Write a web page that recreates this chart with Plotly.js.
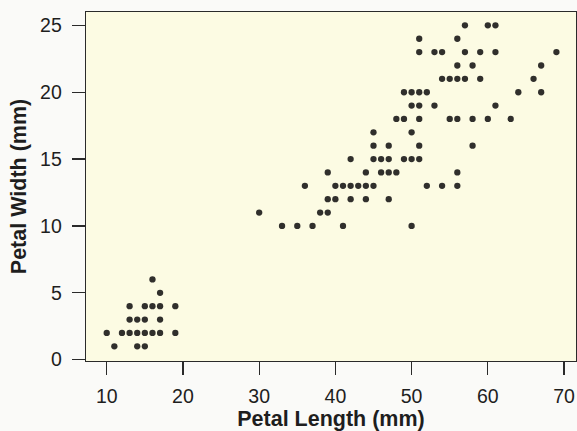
<!DOCTYPE html>
<html>
<head>
<meta charset="utf-8">
<script src="https://cdn.plot.ly/plotly-3.0.1.min.js"></script>
<style>
html,body{margin:0;padding:0;background:#fafaf8;}
#chart{width:577px;height:431px;}
</style>
</head>
<body>
<div id="chart"></div>
<script>
// Petal length (mm) and petal width (mm), one entry per visible dot
const petalLength = [
  // setosa cluster
  10, 12, 13, 14, 15, 16, 17, 19,
  11, 14, 15,
  13, 14, 15, 17,
  13, 15, 16, 17, 19,
  17,
  16,
  // versicolor / virginica
  33, 35, 37, 41, 50,
  30, 38, 39,
  39, 40, 42, 44, 47,
  36, 40, 41, 42, 43, 44, 45, 52, 54, 56,
  39, 44, 46, 47, 48, 56,
  42, 45, 46, 47, 49, 50, 51,
  45, 47, 51, 58,
  45, 50,
  48, 49, 51, 55, 56, 58, 60, 63,
  50, 51, 53, 61,
  49, 50, 51, 52, 64, 67,
  54, 55, 56, 57, 59, 66,
  56, 58, 67,
  51, 53, 54, 57, 59, 61, 69,
  51, 56,
  57, 60, 61
];
const petalWidth = [
  2, 2, 2, 2, 2, 2, 2, 2,
  1, 1, 1,
  3, 3, 3, 3,
  4, 4, 4, 4, 4,
  5,
  6,
  10, 10, 10, 10, 10,
  11, 11, 11,
  12, 12, 12, 12, 12,
  13, 13, 13, 13, 13, 13, 13, 13, 13, 13,
  14, 14, 14, 14, 14, 14,
  15, 15, 15, 15, 15, 15, 15,
  16, 16, 16, 16,
  17, 17,
  18, 18, 18, 18, 18, 18, 18, 18,
  19, 19, 19, 19,
  20, 20, 20, 20, 20, 20,
  21, 21, 21, 21, 21, 21,
  22, 22, 22,
  23, 23, 23, 23, 23, 23, 23,
  24, 24,
  25, 25, 25
];
const xTicks = [10, 20, 30, 40, 50, 60, 70];
const yTicks = [0, 5, 10, 15, 20, 25];
const xTitle = 'Petal Length (mm)';
const yTitle = 'Petal Width (mm)';

const trace = {
  type: 'scatter',
  mode: 'markers',
  x: petalLength,
  y: petalWidth,
  marker: {size: 6.3, color: '#302f2c', line: {width: 0}},
  hoverinfo: 'x+y'
};

const titleFont = {family: 'Liberation Sans, Arial, sans-serif', size: 21.5, color: '#1e1e1e', weight: 'bold'};

const axisCommon = {
  showgrid: false,
  zeroline: false,
  showline: true,
  mirror: true,
  linecolor: '#2a2a2a',
  linewidth: 1.3,
  ticks: 'outside',
  ticklen: 13,
  tickwidth: 1.2,
  tickcolor: '#2a2a2a',
  tickfont: {family: 'Liberation Sans, Arial, sans-serif', size: 19.5, color: '#1e1e1e'},
  fixedrange: true,
  automargin: true
};

const layout = {
  width: 577,
  height: 431,
  margin: {l: 86, r: 1, t: 12, b: 70},
  paper_bgcolor: '#fafaf8',
  plot_bgcolor: '#fcfbe3',
  showlegend: false,
  xaxis: Object.assign({}, axisCommon, {
    range: [7.28, 71.57],
    tickvals: xTicks,
    ticktext: xTicks.map(String),
    ticklabelstandoff: 4,
    title: {text: xTitle, font: titleFont, standoff: 9}
  }),
  yaxis: Object.assign({}, axisCommon, {
    range: [-0.1, 26.0],
    tickvals: yTicks,
    ticktext: yTicks.map(String),
    ticklabelstandoff: 6,
    title: {text: yTitle, font: titleFont, standoff: 7}
  })
};

Plotly.newPlot('chart', [trace], layout, {displayModeBar: false, staticPlot: true});
</script>
</body>
</html>
